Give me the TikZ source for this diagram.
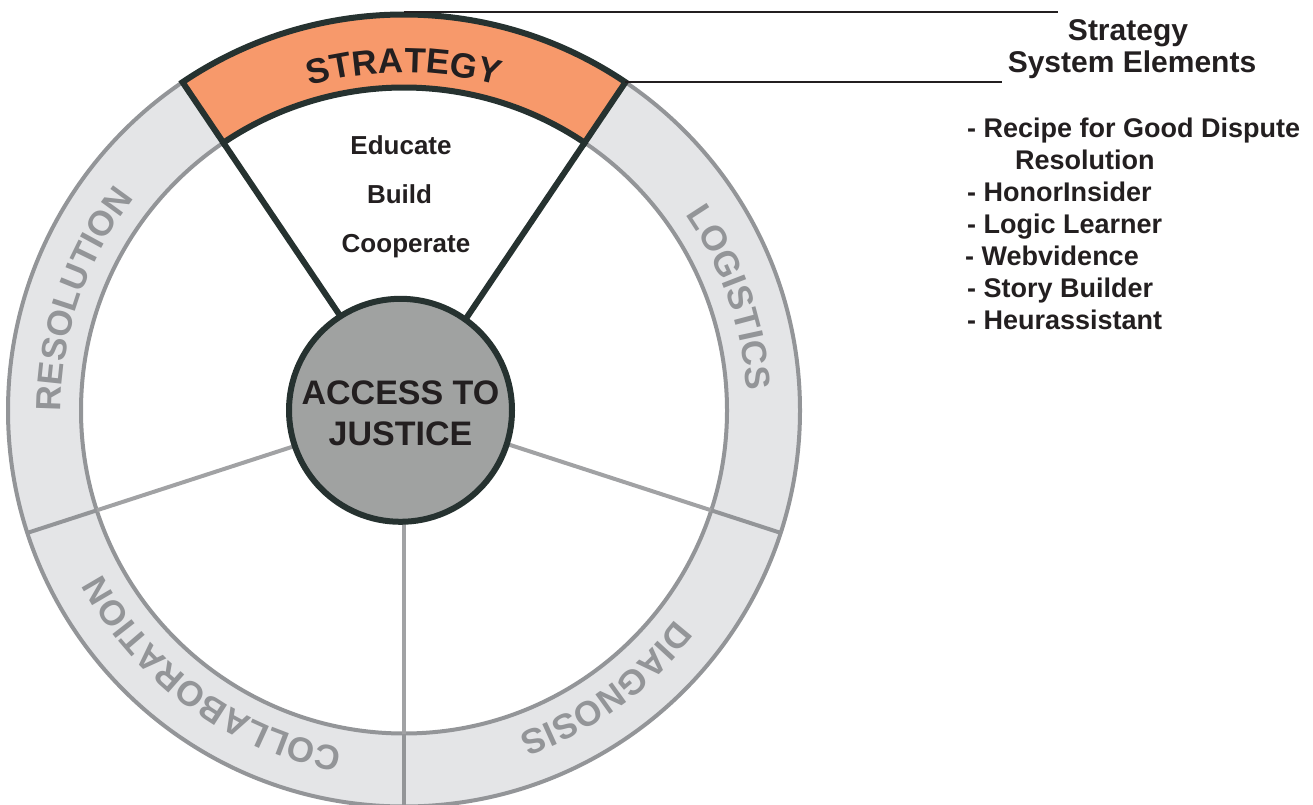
\documentclass[tikz,border=0pt]{standalone}
\usepackage{fontspec}
\setmainfont{Liberation Sans}
\usetikzlibrary{decorations.text}
\definecolor{darkline}{HTML}{263230}
\definecolor{inkc}{HTML}{231F20}
\definecolor{orangefill}{HTML}{F7996B}
\definecolor{ringfill}{HTML}{E4E5E7}
\definecolor{ringline}{HTML}{939598}
\definecolor{spokeline}{HTML}{A1A2A4}
\definecolor{hubfill}{HTML}{A0A2A1}
\newcommand\ringfnt{\fontsize{35}{42}\selectfont\bfseries}
\begin{document}
\begin{tikzpicture}[x=1pt,y=1pt,
  ringstroke/.style={ringline,line width=4},
  spokestroke/.style={spokeline,line width=4},
  darkstroke/.style={darkline,line width=6},
  sectortext/.style={font=\fontsize{26}{30}\selectfont\bfseries,text=inkc,anchor=base,inner sep=0},
  headtext/.style={font=\fontsize{30}{36}\selectfont\bfseries,text=inkc,anchor=base,inner sep=0},
  listtext/.style={font=\fontsize{27}{32}\selectfont\bfseries,text=inkc,anchor=base west,inner sep=0},
  leader/.style={inkc,line width=2}]
\useasboundingbox (0,0) rectangle (1313,804);
\coordinate (C) at (404,393.5);
\coordinate (H) at (400.5,393.7);
% ring
\fill[ringfill,even odd rule] (C) circle[radius=396] (C) circle[radius=323];
\draw[ringstroke] (C) circle[radius=396] (C) circle[radius=323];
% grey spokes
\foreach \a in {198,270,342} {
  \draw[spokestroke] ([shift={(\a:100)}]C) -- ([shift={(\a:323)}]C);
  \draw[ringstroke] ([shift={(\a:323)}]C) -- ([shift={(\a:396)}]C);
}
% strategy sector
\foreach \a in {56,124} {
  \draw[darkstroke] ([shift={(\a:100)}]C) -- ([shift={(\a:325)}]C);
}
\draw[darkstroke,fill=orangefill] ([shift={(56:396)}]C) arc[start angle=56,end angle=124,radius=396]
  -- ([shift={(124:323)}]C) arc[start angle=124,end angle=56,radius=323] -- cycle;
% ring labels
\path[decorate,decoration={text along path,text align=center,text color=inkc,text={|\ringfnt|STRATEGY}}]
  ([shift={(124:338)}]C) arc[start angle=124,end angle=56,radius=338];
\path[decorate,decoration={text along path,text align=center,text color=ringline,text={|\ringfnt|RESOLUTION}}]
  ([shift={(198:343)}]C) arc[start angle=198,end angle=124,radius=343];
\path[decorate,decoration={text along path,text align=center,text color=ringline,text={|\ringfnt|LOGISTICS}}]
  ([shift={(56:343)}]C) arc[start angle=56,end angle=-18,radius=343];
\path[decorate,decoration={text along path,text align=center,text color=ringline,text={|\ringfnt|DIAGNOSIS}}]
  ([shift={(342:343)}]C) arc[start angle=342,end angle=270,radius=343];
\path[decorate,decoration={text along path,text align=center,text color=ringline,text={|\ringfnt|COLLABORATION}}]
  ([shift={(270:343)}]C) arc[start angle=270,end angle=198,radius=343];
% hub
\node[circle,draw=darkline,line width=6,fill=hubfill,minimum size=223,inner sep=0,
  font=\fontsize{34}{41}\selectfont\bfseries,text=inkc,align=center] (hub) at (H) {\rule{0pt}{29.5pt}ACCESS TO\\JUSTICE};
% sector words
\node[sectortext] (educate) at (401,649.7) {Educate};
\node[sectortext] (build) at (399.5,600.7) {Build};
\node[sectortext] (cooperate) at (406,551.7) {Cooperate};
% leaders
\coordinate (l1a) at (404,792);
\coordinate (l1b) at (1058,792);
\coordinate (l2a) at (625,722);
\coordinate (l2b) at (1002,722);
\draw[leader] (l1a) -- (l1b);
\draw[leader] (l2a) -- (l2b);
% heading
\node[headtext] (h1) at (1128,763) {Strategy};
\node[headtext] (h2) at (1132,731) {System Elements};
% list
\node[listtext] (i1) at (967,666) {- Recipe for Good Dispute};
\node[listtext] (i1b) at (1015,634) {Resolution};
\node[listtext] (i2) at (967,602) {- HonorInsider};
\node[listtext] (i3) at (967,570) {- Logic Learner};
\node[listtext] (i4) at (965,538) {- Webvidence};
\node[listtext] (i5) at (967,506) {- Story Builder};
\node[listtext] (i6) at (967,474) {- Heurassistant};
\end{tikzpicture}
\end{document}
